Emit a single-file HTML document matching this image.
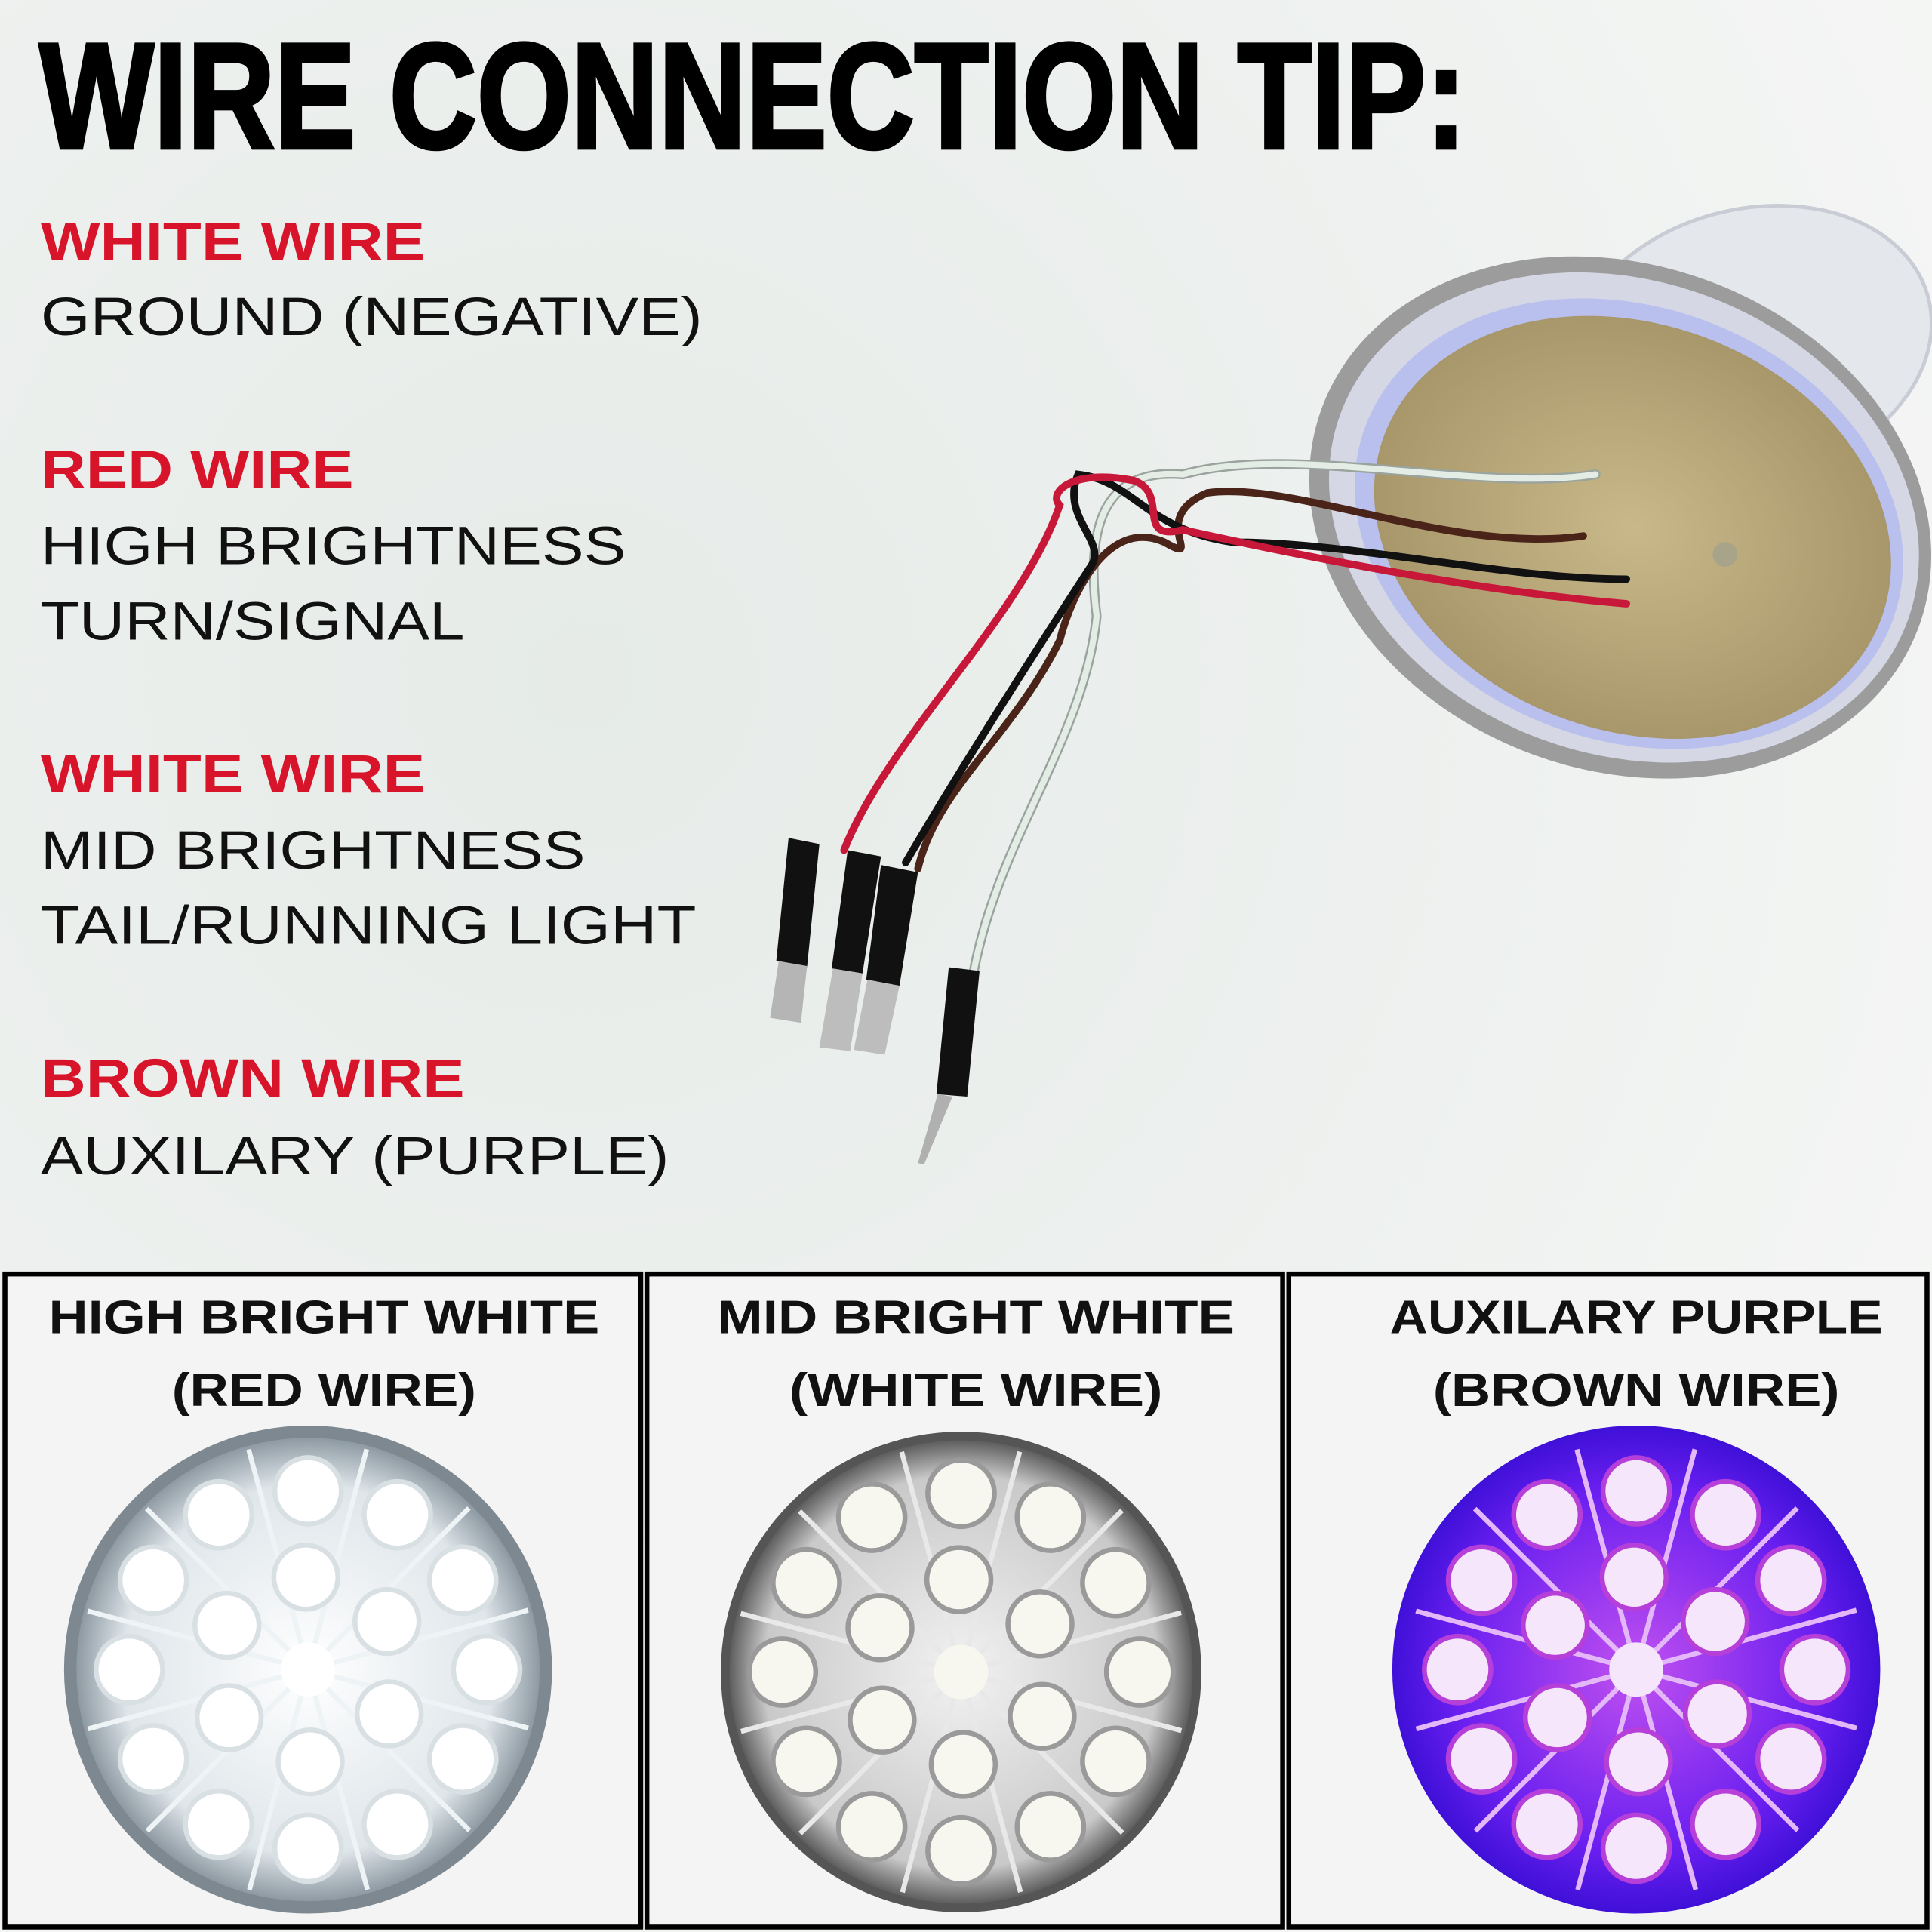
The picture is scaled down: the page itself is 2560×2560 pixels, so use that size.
<!DOCTYPE html>
<html><head><meta charset="utf-8"><style>
html,body{margin:0;padding:0;background:#eef1ef}
svg{display:block}
</style></head><body>
<svg id="s" width="2560" height="2560" viewBox="0 0 1568 1568" xmlns="http://www.w3.org/2000/svg" font-family="Liberation Sans, sans-serif">
<defs>
<radialGradient id="bg" cx="0.3" cy="0.35" r="0.8"><stop offset="0" stop-color="#e6ebe8"/><stop offset="0.6" stop-color="#eef1ef"/><stop offset="1" stop-color="#f5f6f5"/></radialGradient>
<radialGradient id="w1" cx="0.5" cy="0.5" r="0.5"><stop offset="0" stop-color="#ffffff"/><stop offset="0.8" stop-color="#dfe6ea"/><stop offset="1" stop-color="#8e9aa3"/></radialGradient>
<radialGradient id="w2" cx="0.5" cy="0.5" r="0.5"><stop offset="0" stop-color="#f2f2f2"/><stop offset="0.85" stop-color="#c9c9c9"/><stop offset="1" stop-color="#5e5e5e"/></radialGradient>
<radialGradient id="p" cx="0.5" cy="0.5" r="0.5"><stop offset="0" stop-color="#c050f0"/><stop offset="0.75" stop-color="#6a1ff0"/><stop offset="1" stop-color="#3f10d8"/></radialGradient>
<radialGradient id="tan" cx="0.5" cy="0.5" r="0.5"><stop offset="0" stop-color="#c9b98a"/><stop offset="1" stop-color="#a8976a"/></radialGradient>
</defs>
<rect width="1568" height="1568" fill="url(#bg)"/>
<text x="32" y="120" font-size="122" font-weight="bold" textLength="1158" lengthAdjust="spacingAndGlyphs" fill="#000" stroke="#000" stroke-width="3">WIRE CONNECTION TIP:</text>
<g font-size="44" font-weight="bold" fill="#d8142a">
<text x="33" y="211" textLength="312" lengthAdjust="spacingAndGlyphs">WHITE WIRE</text>
<text x="33" y="396" textLength="254" lengthAdjust="spacingAndGlyphs">RED WIRE</text>
<text x="33" y="643" textLength="312" lengthAdjust="spacingAndGlyphs">WHITE WIRE</text>
<text x="33" y="890" textLength="344" lengthAdjust="spacingAndGlyphs">BROWN WIRE</text>
</g>
<g font-size="44" fill="#111">
<text x="33" y="272" textLength="537" lengthAdjust="spacingAndGlyphs">GROUND (NEGATIVE)</text>
<text x="33" y="458" textLength="475" lengthAdjust="spacingAndGlyphs">HIGH BRIGHTNESS</text>
<text x="33" y="519" textLength="344" lengthAdjust="spacingAndGlyphs">TURN/SIGNAL</text>
<text x="33" y="705" textLength="442" lengthAdjust="spacingAndGlyphs">MID BRIGHTNESS</text>
<text x="33" y="766" textLength="532" lengthAdjust="spacingAndGlyphs">TAIL/RUNNING LIGHT</text>
<text x="33" y="953" textLength="510" lengthAdjust="spacingAndGlyphs">AUXILARY (PURPLE)</text>
</g>
<!-- lamp -->
<ellipse cx="1420" cy="280" rx="150" ry="110" fill="#e4e7ec" stroke="#c9ccd4" stroke-width="3" transform="rotate(-15 1420 280)"/>
<ellipse cx="1315" cy="420" rx="258" ry="205" fill="#9c9c9c" transform="rotate(20 1315 420)"/>
<ellipse cx="1318" cy="420" rx="245" ry="192" fill="#d5d8e4" transform="rotate(20 1318 420)"/>
<ellipse cx="1322" cy="425" rx="228" ry="176" fill="#b9c0ee" transform="rotate(20 1322 425)"/>
<ellipse cx="1325" cy="428" rx="215" ry="165" fill="url(#tan)" transform="rotate(20 1325 428)"/>
<circle cx="1400" cy="450" r="10" fill="#a8a48a"/>
<!-- wires -->
<g fill="none" stroke-linecap="round">
<path d="M1295 385 C1200 400 1050 360 960 385 C900 380 880 420 890 500 C880 600 810 680 790 790" stroke="#9aa39e" stroke-width="8"/>
<path d="M1295 385 C1200 400 1050 360 960 385 C900 380 880 420 890 500 C880 600 810 680 790 790" stroke="#e4ece6" stroke-width="5"/>
<path d="M1285 435 C1180 450 1050 390 980 400 C930 420 980 460 945 440 C900 420 870 480 860 520 C820 600 760 640 745 705" stroke="#4a2418" stroke-width="6"/>
<path d="M1320 470 C1220 470 1100 440 1000 440 C930 430 920 390 875 385 C860 420 900 440 885 460 C820 560 770 640 735 700" stroke="#111" stroke-width="6"/>
<path d="M1320 490 C1200 480 1050 450 960 430 C920 440 950 400 920 390 C870 380 850 400 860 410 C830 500 720 600 685 690" stroke="#c8183a" stroke-width="6"/>
</g>
<!-- connectors -->
<g>
<path d="M640 680 L665 685 L655 785 L630 780 Z" fill="#111"/>
<path d="M632 780 L655 784 L650 830 L625 826 Z" fill="#b5b5b5"/>
<path d="M688 690 L715 695 L700 790 L675 786 Z" fill="#111"/>
<path d="M676 786 L700 790 L690 853 L665 850 Z" fill="#bdbdbd"/>
<path d="M715 702 L745 708 L730 800 L703 795 Z" fill="#111"/>
<path d="M704 795 L730 800 L718 856 L693 852 Z" fill="#bdbdbd"/>
<path d="M770 785 L795 788 L785 890 L760 888 Z" fill="#111"/>
<path d="M761 888 L773 890 L750 945 L745 944 Z" fill="#b0b0b0"/>
</g>
<!-- boxes -->
<g fill="#f3f4f3" stroke="#000" stroke-width="4">
<rect x="4" y="1034" width="516" height="530"/>
<rect x="525" y="1034" width="516" height="530"/>
<rect x="1046" y="1034" width="518" height="530"/>
</g>
<g font-size="38" font-weight="bold" fill="#111" text-anchor="middle">
<text x="263" y="1082" textLength="447" lengthAdjust="spacingAndGlyphs">HIGH BRIGHT WHITE</text>
<text x="263" y="1141" textLength="247" lengthAdjust="spacingAndGlyphs">(RED WIRE)</text>
<text x="792" y="1082" textLength="420" lengthAdjust="spacingAndGlyphs">MID BRIGHT WHITE</text>
<text x="792" y="1141" textLength="303" lengthAdjust="spacingAndGlyphs">(WHITE WIRE)</text>
<text x="1328" y="1082" textLength="400" lengthAdjust="spacingAndGlyphs">AUXILARY PURPLE</text>
<text x="1328" y="1141" textLength="330" lengthAdjust="spacingAndGlyphs">(BROWN WIRE)</text>
</g>
<circle cx="250" cy="1355" r="198" fill="#7d8890"/>
<circle cx="250" cy="1355" r="188" fill="url(#w1)"/>
<circle cx="780" cy="1357" r="195" fill="#555"/>
<circle cx="780" cy="1357" r="188" fill="url(#w2)"/>
<circle cx="1328" cy="1355" r="198" fill="url(#p)"/>
<g id="leds"></g>
</svg>
<script>
var g=document.getElementById('leds'),ns='http://www.w3.org/2000/svg';
function ring(cx,cy,n,R,r,fill,stroke,off){for(var i=0;i<n;i++){var a=off+i*2*Math.PI/n;var c=document.createElementNS(ns,'circle');c.setAttribute('cx',cx+R*Math.cos(a));c.setAttribute('cy',cy+R*Math.sin(a));c.setAttribute('r',r);c.setAttribute('fill',fill);c.setAttribute('stroke',stroke);c.setAttribute('stroke-width',4);g.appendChild(c);}}
function lamp(cx,cy,fill,stroke,spoke){for(var i=0;i<12;i++){var a=i*Math.PI/6+0.26;var l=document.createElementNS(ns,'line');l.setAttribute('x1',cx);l.setAttribute('y1',cy);l.setAttribute('x2',cx+185*Math.cos(a));l.setAttribute('y2',cy+185*Math.sin(a));l.setAttribute('stroke',spoke);l.setAttribute('stroke-width',4);g.appendChild(l);}
ring(cx,cy,12,145,27,fill,stroke,0);ring(cx,cy,6,75,26,fill,stroke,0.5);var c=document.createElementNS(ns,'circle');c.setAttribute('cx',cx);c.setAttribute('cy',cy);c.setAttribute('r',22);c.setAttribute('fill',fill);g.appendChild(c);}
lamp(250,1355,'#ffffff','#d8e0e4','#eef3f5');
lamp(780,1357,'#f7f7f0','#9a9a9a','#e8e8e8');
lamp(1328,1355,'#f6e6fb','#b53fd8','#e4b8f8');
</script>
</body></html>
